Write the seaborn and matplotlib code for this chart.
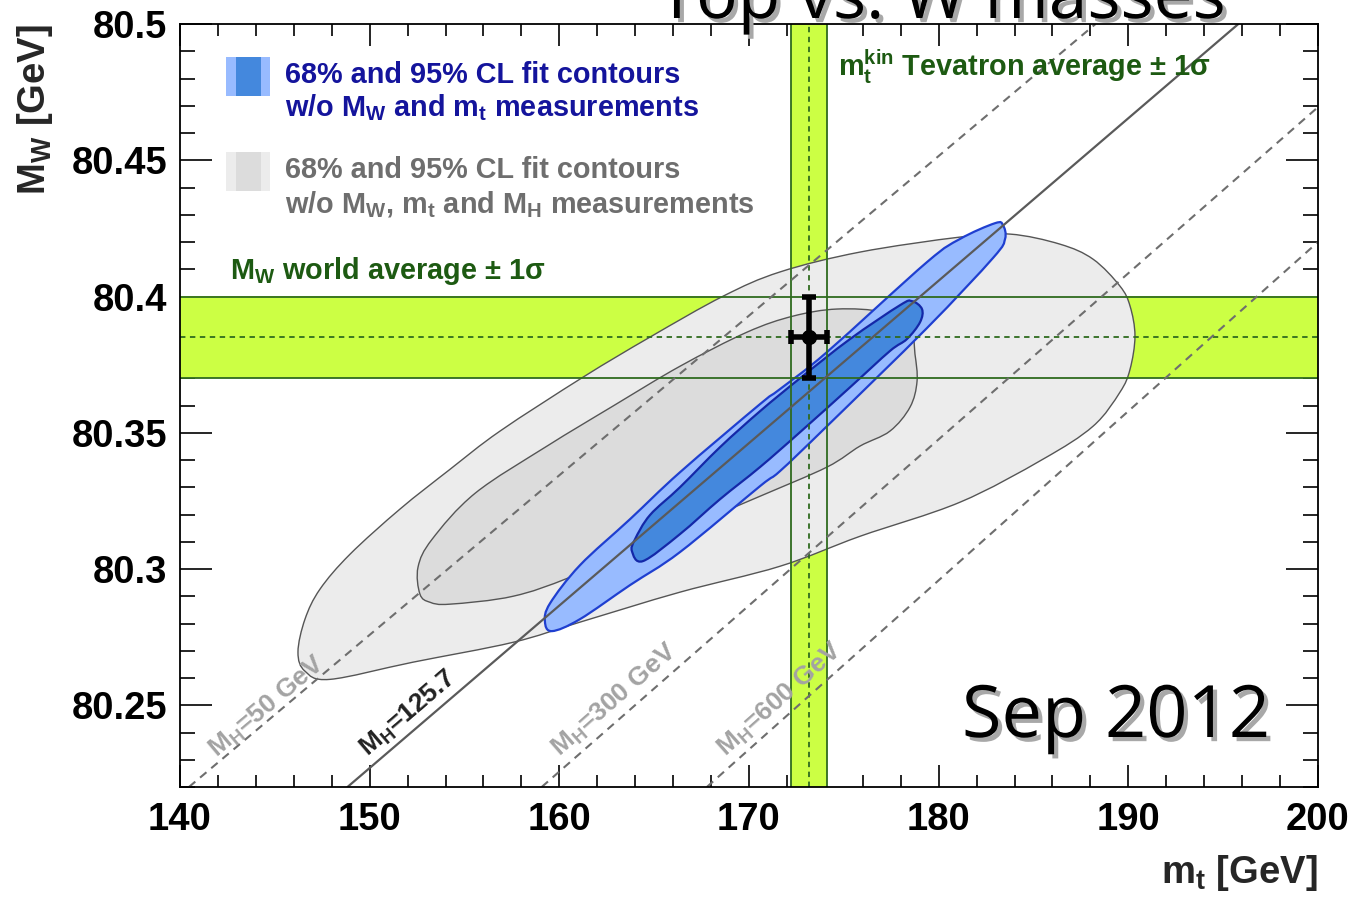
import numpy as np
import pandas as pd
import matplotlib
matplotlib.use("Agg")
import matplotlib.pyplot as plt
import matplotlib.patheffects as pe
from matplotlib.patches import PathPatch, Rectangle
from matplotlib.path import Path
from matplotlib.ticker import MultipleLocator, FuncFormatter
import seaborn as sns

# ---------------------------------------------------------------- data
mt_limits = (140.0, 200.0)
mw_limits = (80.22, 80.5)

# direct measurements (central value, 1 sigma)
mt_meas, mt_err = 173.18, 0.94
mw_meas, mw_err = 80.385, 0.015

# 95% CL contour, fit without MW, mt and MH
grey95_mt = [146.22, 146.59, 147.38, 148.96, 151.60, 154.24, 156.87, 161.25, 164.78,
             168.63, 171.63, 175.85, 181.12, 183.76, 186.40, 188.14, 189.56, 190.09,
             190.35, 190.09, 189.56, 188.14, 185.50, 181.12, 175.85, 171.63, 166.36,
             161.09, 157.56, 152.28, 147.91, 146.59]
grey95_mw = [80.2695, 80.2816, 80.2926, 80.3054, 80.3220, 80.3366, 80.3506, 80.3704, 80.3851,
             80.4001, 80.4090, 80.4163, 80.4218, 80.4229, 80.4192, 80.4137, 80.4038, 80.3965,
             80.3855, 80.3733, 80.3649, 80.3524, 80.3403, 80.3245, 80.3120, 80.3010, 80.2915,
             80.2805, 80.2731, 80.2658, 80.2595, 80.2625]

# 68% CL contour, fit without MW, mt and MH
grey68_mt = [152.55, 153.29, 155.56, 159.35, 162.83, 166.36, 169.89, 172.32, 174.64,
             177.06, 178.49, 178.75, 178.86, 178.49, 177.43, 175.85, 174.11, 170.58,
             166.36, 160.72, 157.56, 154.24, 153.18, 152.65]
grey68_mw = [80.3007, 80.3109, 80.3278, 80.3451, 80.3598, 80.3744, 80.3869, 80.3928, 80.3954,
             80.3943, 80.3891, 80.3789, 80.3689, 80.3594, 80.3506, 80.3451, 80.3374, 80.3267,
             80.3142, 80.2974, 80.2900, 80.2871, 80.2878, 80.2908]

# 95% CL contour, fit without MW and mt
blue95_mt = [159.24, 159.61, 161.09, 163.73, 166.36, 170.58, 171.63, 174.11, 179.38,
             182.86, 183.50, 183.39, 182.97, 181.12, 179.38, 174.11, 171.63, 170.58,
             166.36, 163.73, 161.09, 159.51]
blue95_mw = [80.2808, 80.2772, 80.2816, 80.2941, 80.3062, 80.3304, 80.3359, 80.3524, 80.3884,
             80.4141, 80.4211, 80.4262, 80.4269, 80.4211, 80.4126, 80.3796, 80.3660, 80.3605,
             80.3355, 80.3183, 80.3014, 80.2874]

# 68% CL contour, fit without MW and mt
blue68_mt = [163.83, 164.41, 166.36, 168.47, 170.58, 172.69, 175.33, 177.43, 178.33,
             179.02, 179.12, 178.59, 177.96, 175.33, 172.69, 170.58, 168.47, 166.36,
             164.78, 163.99]
blue68_mw = [80.3065, 80.3029, 80.3128, 80.3256, 80.3374, 80.3502, 80.3667, 80.3800, 80.3844,
             80.3906, 80.3954, 80.3983, 80.3968, 80.3844, 80.3700, 80.3579, 80.3447, 80.3300,
             80.3198, 80.3109]

# SM prediction lines for fixed Higgs masses (two points per line)
mh_names = ["M$_{H}$=50 GeV", "M$_{H}$=125.7", "M$_{H}$=300 GeV", "M$_{H}$=600 GeV"]
mh_mt = [[140.47, 188.27], [148.83, 195.80], [159.07, 200.00], [167.78, 200.00]]
mh_mw = [[80.22, 80.50], [80.22, 80.50], [80.22, 80.4695], [80.22, 80.42]]
mh_label_mt = [141.95, 149.90, 160.05, 168.80]
mh_label_mw = [80.2305, 80.2309, 80.2309, 80.2309]

# ---------------------------------------------------------------- style
sns.set_theme(style="ticks")
plt.rcParams.update({
    "font.family": ["Liberation Sans", "DejaVu Sans"],
    "font.weight": "bold",
    "mathtext.fontset": "custom",
    "mathtext.rm": "Liberation Sans:bold",
    "mathtext.it": "Liberation Sans:bold",
    "mathtext.bf": "Liberation Sans:bold",
    "mathtext.sf": "Liberation Sans:bold",
    "mathtext.default": "rm",
    "axes.linewidth": 1.3,
})

W, H = 1353, 897
fig = plt.figure(figsize=(W / 100, H / 100), dpi=100)
L, R, T, B = 180, 1318, 24, 787
ax = fig.add_axes([L / W, 1 - B / H, (R - L) / W, (B - T) / H])
ax.set_xlim(*mt_limits)
ax.set_ylim(*mw_limits)


def fx(px):
    return px / W


def fy(py):
    return 1 - py / H


def smooth_outline(xs, ys):
    """Closed outline through the given vertices, drawn with cubic Bezier segments."""
    P = np.column_stack([xs, ys]).astype(float)
    n = len(P)
    verts = [P[0]]
    codes = [Path.MOVETO]
    for i in range(n):
        p0, p1, p2, p3 = P[i - 1], P[i], P[(i + 1) % n], P[(i + 2) % n]
        c1 = p1 + (p2 - p0) / 6.0
        c2 = p2 - (p3 - p1) / 6.0
        verts += [c1, c2, p2]
        codes += [Path.CURVE4] * 3
    verts.append(P[0])
    codes.append(Path.CLOSEPOLY)
    return Path(np.array(verts), codes)


yellow = "#ccff44"
band_green = "#2f6b1f"
text_green = "#1d5a12"

# measurement bands
ax.axvspan(mt_meas - mt_err, mt_meas + mt_err, color=yellow, lw=0, zorder=1)
ax.axhspan(mw_meas - mw_err, mw_meas + mw_err, color=yellow, lw=0, zorder=1)

# fit contours
for xs, ys, fc, ec, lw, z in [
        (grey95_mt, grey95_mw, "#ececec", "#555555", 1.0, 2.0),
        (grey68_mt, grey68_mw, "#dcdcdc", "#555555", 1.0, 2.1),
        (blue95_mt, blue95_mw, "#98bbff", "#1f3fd0", 1.6, 3.0),
        (blue68_mt, blue68_mw, "#4488dd", "#1428a8", 1.6, 3.1)]:
    ax.add_patch(PathPatch(smooth_outline(xs, ys), facecolor=fc, edgecolor=ec, lw=lw, zorder=z))

# band edges and centres
for v in (mt_meas - mt_err, mt_meas + mt_err):
    ax.axvline(v, color=band_green, lw=1.3, zorder=4)
for v in (mw_meas - mw_err, mw_meas + mw_err):
    ax.axhline(v, color=band_green, lw=1.3, zorder=4)
ax.axvline(mt_meas, color=band_green, lw=1.3, ls=(0, (3, 2.5)), zorder=4)
ax.axhline(mw_meas, color=band_green, lw=1.3, ls=(0, (3, 2.5)), zorder=4)

# Higgs-mass lines
for i, name in enumerate(mh_names):
    solid = "125.7" in name
    sns.lineplot(x=mh_mt[i], y=mh_mw[i], ax=ax, color="#5a5a5a" if solid else "#6e6e6e",
                 lw=1.6 if solid else 1.5, linestyle="-" if solid else (0, (4, 3)),
                 legend=False, zorder=4.5, sort=False)
    angle = np.degrees(np.arctan2(mh_mw[i][1] - mh_mw[i][0], mh_mt[i][1] - mh_mt[i][0]))
    ax.text(mh_label_mt[i], mh_label_mw[i], name, rotation=angle,
            transform_rotates_text=True, rotation_mode="anchor",
            ha="left", va="baseline", fontsize=19, fontweight="bold",
            color="#222222" if solid else "#a3a3a3", zorder=5)

# direct measurement point
ax.errorbar([mt_meas], [mw_meas], xerr=[mt_err], yerr=[mw_err], fmt="o", color="black",
            ms=10, elinewidth=4, capsize=5, capthick=4, zorder=6)

# axes, ticks
ax.xaxis.set_major_locator(MultipleLocator(10))
ax.xaxis.set_minor_locator(MultipleLocator(2))
ax.yaxis.set_major_locator(MultipleLocator(0.05))
ax.yaxis.set_minor_locator(MultipleLocator(0.01))
ax.xaxis.set_major_formatter(FuncFormatter(lambda v, p: f"{round(v, 3):g}"))
ax.yaxis.set_major_formatter(FuncFormatter(lambda v, p: f"{round(v, 3):g}"))
ax.tick_params(axis="both", which="both", direction="in", top=True, right=True,
               colors="black", width=1.2)
ax.tick_params(axis="x", which="major", length=16, pad=11, labelsize=27.5)
ax.tick_params(axis="x", which="minor", length=8.5)
ax.tick_params(axis="y", which="major", length=23, pad=9, labelsize=27.5)
ax.tick_params(axis="y", which="minor", length=11)
for lab in ax.get_xticklabels() + ax.get_yticklabels():
    lab.set_fontweight("bold")
for s in ax.spines.values():
    s.set_color("black")
    s.set_zorder(7)

fig.text(fx(1318), fy(873), "m$_{t}$ [GeV]", ha="right", va="center",
         fontsize=27.5, fontweight="bold")
fig.text(fx(35), fy(24), "M$_{W}$ [GeV]", rotation=90, ha="center", va="top",
         fontsize=27.5, fontweight="bold")

# legend block
ax_px = lambda px, py: ((px - L) / (R - L), (B - py) / (B - T))
for (x0, y0, col_out, col_in) in [(226, 57, "#98bbff", "#4488dd"), (226, 152, "#ececec", "#dcdcdc")]:
    a, b = ax_px(x0, y0 + 39)
    ax.add_patch(Rectangle((a, b), 44 / (R - L), 39 / (B - T), transform=ax.transAxes,
                           facecolor=col_out, edgecolor="none", zorder=5))
    a2, _ = ax_px(x0 + 10, y0)
    ax.add_patch(Rectangle((a2, b), 25 / (R - L), 39 / (B - T), transform=ax.transAxes,
                           facecolor=col_in, edgecolor="none", zorder=5.1))

legend_fs = 20.8
fig.text(fx(285), fy(83), "68% and 95% CL fit contours", fontsize=legend_fs,
         color="#14149c", fontweight="bold")
fig.text(fx(285), fy(116), "w/o M$_{W}$ and m$_{t}$ measurements", fontsize=legend_fs,
         color="#14149c", fontweight="bold")
fig.text(fx(285), fy(178), "68% and 95% CL fit contours", fontsize=legend_fs,
         color="#6e6e6e", fontweight="bold")
fig.text(fx(285), fy(213), "w/o M$_{W}$, m$_{t}$ and M$_{H}$ measurements", fontsize=legend_fs,
         color="#6e6e6e", fontweight="bold")
fig.text(fx(230), fy(279), "M$_{W}$ world average ± 1σ", fontsize=legend_fs,
         color=text_green, fontweight="bold")
fig.text(fx(838), fy(76), "m$_{t}^{kin}$ Tevatron average ± 1σ", fontsize=legend_fs,
         color=text_green, fontweight="bold")

shadow = [pe.SimplePatchShadow(offset=(3, -3), shadow_rgbFace="#a8a8a8", alpha=1.0), pe.Normal()]
fig.text(fx(1270), fy(737), "Sep 2012", ha="right", va="baseline", fontsize=52,
         family="Open Sans", fontweight="normal", color="black", path_effects=shadow, zorder=10)
fig.text(fx(942), fy(18), "Top vs. W masses", ha="center", va="baseline", fontsize=50,
         family="Open Sans", fontweight="normal", color="black", path_effects=shadow, zorder=10)

fig.savefig("out.png", dpi=100, facecolor="white")
